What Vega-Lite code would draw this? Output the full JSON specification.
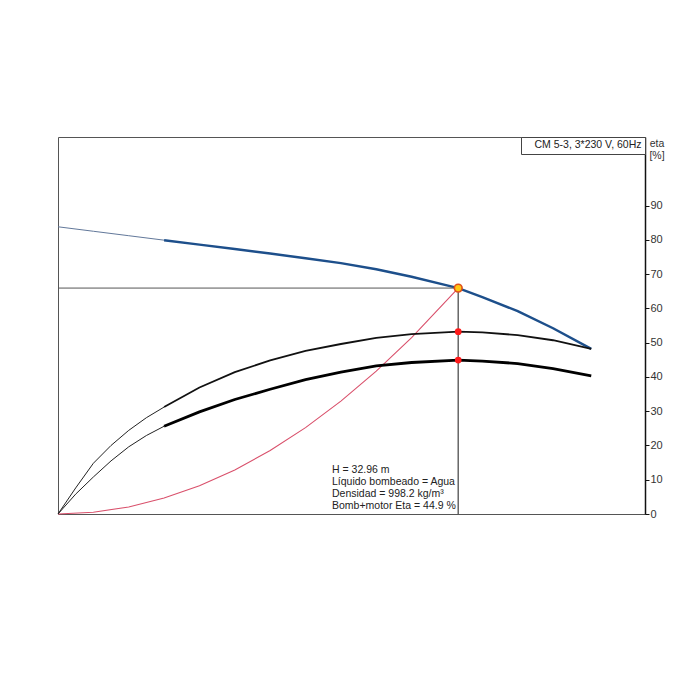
{
  "$schema": "https://vega.github.io/schema/vega-lite/v6.json",
  "width": 587,
  "height": 377,
  "autosize": "none",
  "padding": {"left": 58, "top": 137, "right": 55, "bottom": 186},
  "background": "white",
  "title": {
    "text": ["H = 32.96 m", "Líquido bombeado = Agua", "Densidad = 998.2 kg/m³", "Bomb+motor Eta = 44.9 %"],
    "orient": "bottom",
    "anchor": "start",
    "frame": "group",
    "align": "left",
    "baseline": "top",
    "dx": 274,
    "dy": -58,
    "font": "Liberation Sans",
    "fontSize": 10.5,
    "fontWeight": "normal",
    "lineHeight": 12,
    "color": "#222"
  },
  "config": {
    "font": "Liberation Sans",
    "locale": {"number": {"decimal": ",", "thousands": ".", "grouping": [3], "currency": ["", " €"]}},
    "view": {"stroke": "#555", "strokeWidth": 1},
    "axis": {
      "labelFont": "Liberation Sans",
      "labelFontSize": 11,
      "labelColor": "#333",
      "domainColor": "#111",
      "domainWidth": 1.5,
      "tickColor": "#111",
      "tickSize": 4,
      "gridColor": "#dedede",
      "gridWidth": 1,
      "titleFont": "Liberation Sans",
      "titleFontSize": 10.5,
      "titleFontWeight": "normal",
      "titleColor": "#333"
    }
  },
  "datasets": {
    "head": [
      {"Q": 0, "H": 41.9}, {"Q": 0.5, "H": 41.25}, {"Q": 1.0, "H": 40.6}, {"Q": 1.5, "H": 39.95},
      {"Q": 2.0, "H": 39.3}, {"Q": 2.5, "H": 38.65}, {"Q": 3.0, "H": 38.0}, {"Q": 3.5, "H": 37.3},
      {"Q": 4.0, "H": 36.6}, {"Q": 4.5, "H": 35.7}, {"Q": 5.0, "H": 34.6}, {"Q": 5.5, "H": 33.35},
      {"Q": 5.659, "H": 32.96}, {"Q": 6.0, "H": 31.65}, {"Q": 6.5, "H": 29.6}, {"Q": 7.0, "H": 27.1},
      {"Q": 7.54, "H": 24.1}
    ],
    "system": [
      {"Q": 0, "H": 0}, {"Q": 0.5, "H": 0.26}, {"Q": 1.0, "H": 1.03}, {"Q": 1.5, "H": 2.32},
      {"Q": 2.0, "H": 4.12}, {"Q": 2.5, "H": 6.43}, {"Q": 3.0, "H": 9.26}, {"Q": 3.5, "H": 12.6},
      {"Q": 4.0, "H": 16.47}, {"Q": 4.5, "H": 20.84}, {"Q": 5.0, "H": 25.73}, {"Q": 5.659, "H": 32.96}
    ],
    "eta": [
      {"curve": "Bomba eta", "Q": 0, "eta": 0}, {"curve": "Bomba eta", "Q": 0.25, "eta": 7.6},
      {"curve": "Bomba eta", "Q": 0.5, "eta": 14.8}, {"curve": "Bomba eta", "Q": 0.75, "eta": 20.0},
      {"curve": "Bomba eta", "Q": 1.0, "eta": 24.4}, {"curve": "Bomba eta", "Q": 1.25, "eta": 28.1},
      {"curve": "Bomba eta", "Q": 1.5, "eta": 31.2}, {"curve": "Bomba eta", "Q": 2.0, "eta": 36.9},
      {"curve": "Bomba eta", "Q": 2.5, "eta": 41.4}, {"curve": "Bomba eta", "Q": 3.0, "eta": 44.8},
      {"curve": "Bomba eta", "Q": 3.5, "eta": 47.6}, {"curve": "Bomba eta", "Q": 4.0, "eta": 49.6},
      {"curve": "Bomba eta", "Q": 4.5, "eta": 51.4}, {"curve": "Bomba eta", "Q": 5.0, "eta": 52.5},
      {"curve": "Bomba eta", "Q": 5.659, "eta": 53.2}, {"curve": "Bomba eta", "Q": 6.0, "eta": 53.0},
      {"curve": "Bomba eta", "Q": 6.5, "eta": 52.2}, {"curve": "Bomba eta", "Q": 7.0, "eta": 50.7},
      {"curve": "Bomba eta", "Q": 7.54, "eta": 48.2},
      {"curve": "Bomb+motor Eta", "Q": 0, "eta": 0}, {"curve": "Bomb+motor Eta", "Q": 0.25, "eta": 5.8},
      {"curve": "Bomb+motor Eta", "Q": 0.5, "eta": 10.8}, {"curve": "Bomb+motor Eta", "Q": 0.75, "eta": 15.5},
      {"curve": "Bomb+motor Eta", "Q": 1.0, "eta": 19.6}, {"curve": "Bomb+motor Eta", "Q": 1.25, "eta": 22.9},
      {"curve": "Bomb+motor Eta", "Q": 1.5, "eta": 25.6}, {"curve": "Bomb+motor Eta", "Q": 2.0, "eta": 29.8},
      {"curve": "Bomb+motor Eta", "Q": 2.5, "eta": 33.4}, {"curve": "Bomb+motor Eta", "Q": 3.0, "eta": 36.4},
      {"curve": "Bomb+motor Eta", "Q": 3.5, "eta": 39.2}, {"curve": "Bomb+motor Eta", "Q": 4.0, "eta": 41.4},
      {"curve": "Bomb+motor Eta", "Q": 4.5, "eta": 43.2}, {"curve": "Bomb+motor Eta", "Q": 5.0, "eta": 44.2},
      {"curve": "Bomb+motor Eta", "Q": 5.659, "eta": 44.9}, {"curve": "Bomb+motor Eta", "Q": 6.0, "eta": 44.6},
      {"curve": "Bomb+motor Eta", "Q": 6.5, "eta": 43.9}, {"curve": "Bomb+motor Eta", "Q": 7.0, "eta": 42.4},
      {"curve": "Bomb+motor Eta", "Q": 7.54, "eta": 40.3}
    ],
    "op": [{"Q": 5.659, "H": 32.96}],
    "opEta": [{"Q": 5.659, "eta": 53.2}, {"Q": 5.659, "eta": 44.9}]
  },
  "encoding": {
    "x": {
      "field": "Q",
      "type": "quantitative",
      "scale": {"domain": [0, 8.3], "nice": false, "zero": false},
      "axis": {
        "values": [0, 0.5, 1, 1.5, 2, 2.5, 3, 3.5, 4, 4.5, 5, 5.5, 6, 6.5, 7, 7.5, 8],
        "format": ".1f",
        "labelExpr": "datum.value == 8 ? 'Q [m³/h]' : datum.value == 0 ? '0' : datum.label",
        "labelFlush": false,
        "labelOverlap": false,
        "tickSize": 3,
        "labelPadding": 2,
        "grid": true,
        "title": ["Q = 5.659 m³/h", "n = 3490 rpm", "Temperatura del líquido durante el funcionamiento = 20 °C", "Bomba eta = 53.2 %"],
        "titleX": 0,
        "titleY": 18,
        "titleAlign": "left",
        "titleAnchor": "start",
        "titleBaseline": "top",
        "titleLineHeight": 12,
        "titleFontSize": 10.5,
        "titleColor": "#222"
      }
    }
  },
  "layer": [
    {
      "encoding": {
        "y": {
          "field": "H",
          "type": "quantitative",
          "scale": {"domain": [0, 55], "nice": false},
          "axis": {
            "orient": "left",
            "values": [0, 5, 10, 15, 20, 25, 30, 35, 40, 45, 50, 55],
            "labelExpr": "datum.value > 45 ? '' : datum.label",
            "title": ["H", "[m]"],
            "titleAngle": 0,
            "titleAlign": "center",
            "titleBaseline": "top",
            "titleX": -11,
            "titleY": 1,
            "titleLineHeight": 12,
            "labelPadding": 1,
            "grid": true
          }
        }
      },
      "layer": [
        {
          "data": {"name": "system"},
          "mark": {"type": "line", "color": "#d9506b", "strokeWidth": 1.1}
        },
        {
          "data": {"name": "head"},
          "transform": [{"filter": "datum.Q <= 1.5"}],
          "mark": {"type": "line", "color": "#62789a", "strokeWidth": 1}
        },
        {
          "data": {"name": "head"},
          "transform": [{"filter": "datum.Q >= 1.5"}],
          "mark": {"type": "line", "strokeWidth": 2.5},
          "encoding": {
            "color": {
              "datum": "CM 5-3, 3*230 V, 60Hz",
              "type": "nominal",
              "scale": {"range": ["#1d4f8b"]},
              "legend": {
                "orient": "top-right",
                "offset": 0,
                "title": null,
                "padding": 3,
                "strokeColor": "#444",
                "fillColor": "white",
                "symbolSize": 0,
                "symbolOpacity": 0,
                "symbolStrokeWidth": 0,
                "labelOffset": 0,
                "labelFont": "Liberation Sans",
                "labelFontSize": 10.5,
                "labelColor": "#222",
                "labelLimit": 300
              }
            }
          }
        },
        {
          "data": {"name": "op"},
          "mark": {"type": "rule", "color": "#555", "strokeWidth": 1},
          "encoding": {
            "x": {"datum": 0, "scale": {"domain": [0, 8.3], "nice": false, "zero": false}, "axis": null},
            "x2": {"field": "Q"}
          }
        },
        {
          "data": {"name": "op"},
          "mark": {"type": "rule", "color": "#666", "strokeWidth": 1.5},
          "encoding": {
            "y": {"datum": 0, "scale": {"domain": [0, 55], "nice": false}, "axis": null},
            "y2": {"field": "H"}
          }
        },
        {
          "data": {"name": "op"},
          "mark": {"type": "point", "filled": true, "fill": "#ffc814", "stroke": "#e0501a", "strokeWidth": 1.6, "size": 60, "opacity": 1}
        }
      ]
    },
    {
      "encoding": {
        "y": {
          "field": "eta",
          "type": "quantitative",
          "scale": {"domain": [0, 110], "nice": false},
          "axis": {
            "orient": "right",
            "values": [0, 10, 20, 30, 40, 50, 60, 70, 80, 90],
            "grid": false,
            "title": ["eta", "[%]"],
            "titleAngle": 0,
            "titleAlign": "center",
            "titleBaseline": "top",
            "titleX": 11.5,
            "titleY": 1,
            "titleLineHeight": 12,
            "labelPadding": 1
          }
        }
      },
      "layer": [
        {
          "data": {"name": "eta"},
          "transform": [{"filter": "datum.Q <= 1.5"}],
          "mark": {"type": "line", "color": "#222", "strokeWidth": 1},
          "encoding": {"detail": {"field": "curve"}}
        },
        {
          "data": {"name": "eta"},
          "transform": [{"filter": "datum.Q >= 1.5 && datum.curve == 'Bomba eta'"}],
          "mark": {"type": "line", "color": "#111", "strokeWidth": 1.8}
        },
        {
          "data": {"name": "eta"},
          "transform": [{"filter": "datum.Q >= 1.5 && datum.curve == 'Bomb+motor Eta'"}],
          "mark": {"type": "line", "color": "#000", "strokeWidth": 2.8}
        },
        {
          "data": {"name": "opEta"},
          "mark": {"type": "point", "filled": true, "color": "#ff1a1a", "size": 45, "opacity": 1}
        }
      ]
    }
  ],
  "resolve": {"scale": {"y": "independent"}}
}
